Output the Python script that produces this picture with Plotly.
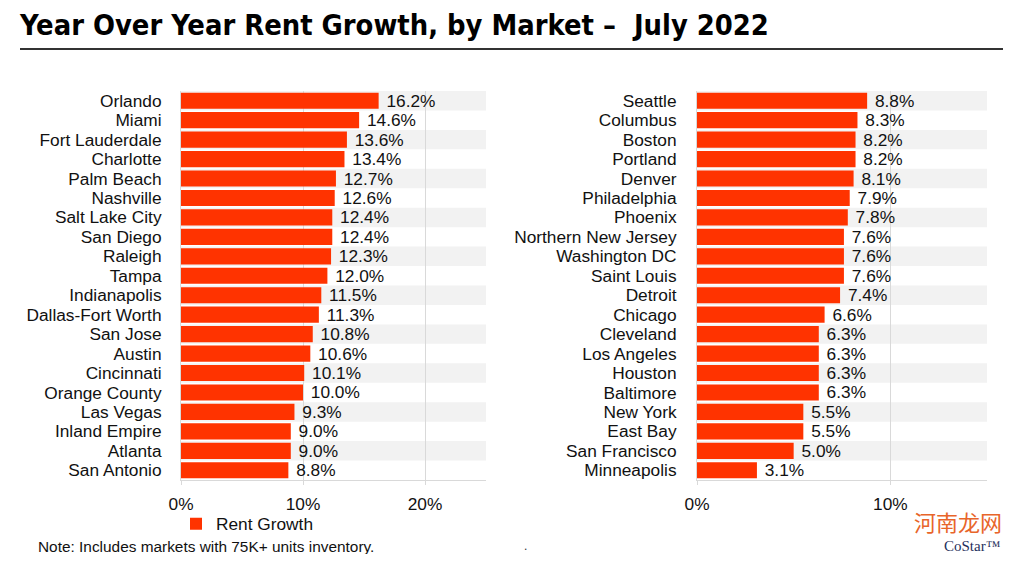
import plotly.graph_objects as go

# ---- data ----
left_markets = ["Orlando", "Miami", "Fort Lauderdale", "Charlotte", "Palm Beach", "Nashville",
                "Salt Lake City", "San Diego", "Raleigh", "Tampa", "Indianapolis", "Dallas-Fort Worth",
                "San Jose", "Austin", "Cincinnati", "Orange County", "Las Vegas", "Inland Empire",
                "Atlanta", "San Antonio"]
left_growth = [16.2, 14.6, 13.6, 13.4, 12.7, 12.6, 12.4, 12.4, 12.3, 12.0, 11.5, 11.3,
               10.8, 10.6, 10.1, 10.0, 9.3, 9.0, 9.0, 8.8]

right_markets = ["Seattle", "Columbus", "Boston", "Portland", "Denver", "Philadelphia", "Phoenix",
                 "Northern New Jersey", "Washington DC", "Saint Louis", "Detroit", "Chicago",
                 "Cleveland", "Los Angeles", "Houston", "Baltimore", "New York", "East Bay",
                 "San Francisco", "Minneapolis"]
right_growth = [8.8, 8.3, 8.2, 8.2, 8.1, 7.9, 7.8, 7.6, 7.6, 7.6, 7.4, 6.6,
                6.3, 6.3, 6.3, 6.3, 5.5, 5.5, 5.0, 3.1]

left_ticks = [0, 10, 20]
right_ticks = [0, 10]
series_name = "Rent Growth"
title_text = "Year Over Year Rent Growth, by Market \u2013  July 2022"
note_text = "Note: Includes markets with 75K+ units inventory."

# ---- style ----
OFF = 8                      # page body margin (all sides)
W, H = 1024 - 2 * OFF, 562 - 2 * OFF
BAR = "#FF3300"
BAND = "#F2F2F2"
GRID = "#D9D9D9"
FONT = "Liberation Sans, Arial, sans-serif"
FS = 17.3

def px(x):
    return (x - OFF) / W

def py(y):
    return 1 - (y - OFF) / H

fig = go.Figure()

for xs, ys, xa, ya, show in [(left_growth, left_markets, "x", "y", True),
                             (right_growth, right_markets, "x2", "y2", False)]:
    fig.add_trace(go.Bar(
        x=xs, y=ys, orientation="h", name=series_name,
        marker=dict(color=BAR, line=dict(width=0)),
        texttemplate=" %{x:.1f}%", textposition="outside", constraintext="none",
        textfont=dict(size=FS, color="#111111", family=FONT), cliponaxis=False,
        xaxis=xa, yaxis=ya, showlegend=show,
    ))

shapes = []
for i in range(0, len(left_markets), 2):
    shapes.append(dict(type="rect", xref="x domain", yref="y", x0=0, x1=1,
                       y0=i - 0.5, y1=i + 0.5, fillcolor=BAND, line=dict(width=0), layer="below"))
for i in range(0, len(right_markets), 2):
    shapes.append(dict(type="rect", xref="x2 domain", yref="y2", x0=0, x1=1,
                       y0=i - 0.5, y1=i + 0.5, fillcolor=BAND, line=dict(width=0), layer="below"))
# rule under title
shapes.append(dict(type="line", xref="paper", yref="paper", x0=px(20), x1=px(1003),
                   y0=py(49), y1=py(49), line=dict(color="#333333", width=2)))

y_dom = [py(480), py(91)]

axis_common = dict(showgrid=True, gridcolor=GRID, gridwidth=1, zeroline=False,
                   showline=True, linecolor=GRID, linewidth=1,
                   ticks="outside", ticklen=4, tickcolor=GRID, automargin=False,
                   tickfont=dict(size=FS, color="#111111", family=FONT),
                   ticklabelstandoff=4, fixedrange=True)

def cat_axis(markets, anchor, standoff):
    return dict(domain=y_dom, range=[len(markets) - 0.5, -0.5], type="category", anchor=anchor,
                tickmode="array", tickvals=markets, ticktext=markets, automargin=False,
                showline=True, linecolor=GRID, showgrid=False, ticks="", fixedrange=True,
                tickfont=dict(size=FS, color="#111111", family=FONT), ticklabelstandoff=standoff)

fig.update_layout(
    width=W, height=H,
    margin=dict(l=0, r=0, t=0, b=0, pad=0),
    paper_bgcolor="white", plot_bgcolor="white",
    bargap=0.17,
    font=dict(family=FONT, color="#111111"),
    xaxis=dict(domain=[px(181), px(486)], range=[0, 25], tickvals=left_ticks,
               ticktext=[f"{v}%" for v in left_ticks], anchor="y", **axis_common),
    xaxis2=dict(domain=[px(697), px(987)], range=[0, 15], tickvals=right_ticks,
                ticktext=[f"{v}%" for v in right_ticks], anchor="y2", **axis_common),
    yaxis=cat_axis(left_markets, "x", 15),
    yaxis2=cat_axis(right_markets, "x2", 16),
    shapes=shapes,
    showlegend=True,
    legend=dict(x=px(176), y=py(524), xanchor="left", yanchor="middle",
                font=dict(size=FS, color="#111111", family=FONT),
                bgcolor="rgba(0,0,0,0)", itemwidth=30),
    annotations=[
        dict(text="<b>" + title_text + "</b>", xref="paper", yref="paper", x=px(17), y=py(25),
             xanchor="left", yanchor="middle", showarrow=False,
             font=dict(size=28.8, color="#000000",
                       family="Liberation Sans Narrow, Arial Narrow, DejaVu Sans Condensed, sans-serif")),
        dict(text=note_text, xref="paper", yref="paper", x=px(36), y=py(546),
             xanchor="left", yanchor="middle", showarrow=False,
             font=dict(size=15.4, color="#111111", family=FONT)),
        dict(text=".", xref="paper", yref="paper", x=px(525), y=py(546),
             xanchor="center", yanchor="middle", showarrow=False,
             font=dict(size=12, color="#333333", family=FONT)),
        dict(text="河南龙网", xref="paper", yref="paper", x=px(912), y=py(521),
             xanchor="left", yanchor="middle", showarrow=False,
             font=dict(size=22, color="#E8652A", family="Noto Sans CJK SC")),
        dict(text="CoStar\u2122", xref="paper", yref="paper", x=px(942), y=py(546),
             xanchor="left", yanchor="middle", showarrow=False,
             font=dict(size=15, color="#1F2F5C", family="Liberation Serif, serif")),
    ],
)

fig.write_html("out.html")
